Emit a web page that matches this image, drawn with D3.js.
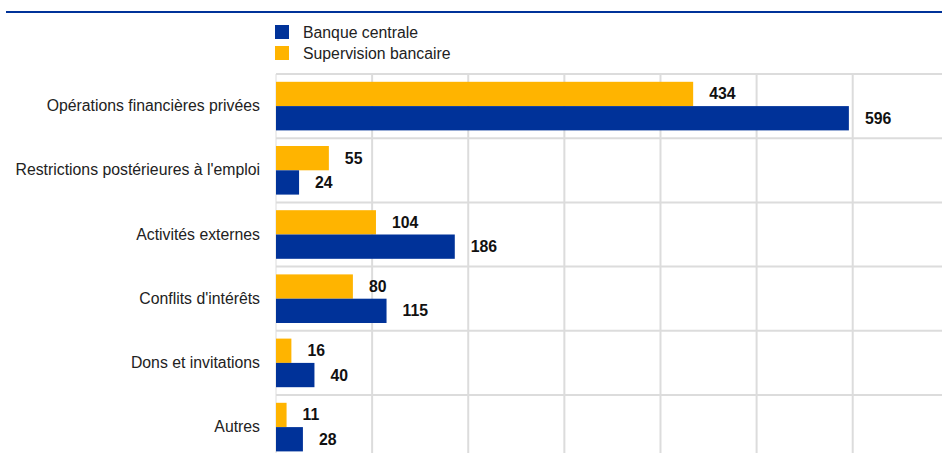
<!DOCTYPE html>
<html>
<head>
<meta charset="utf-8">
<script src="https://cdn.jsdelivr.net/npm/d3@7"></script>
<style>
  html, body { margin: 0; padding: 0; background: #fff; }
  svg { display: block; }
  text { font-family: "Liberation Sans", Arial, sans-serif; }
</style>
</head>
<body>
<svg id="chart" width="942" height="453"></svg>
<script>
const categories = [
  "Opérations financières privées",
  "Restrictions postérieures à l'emploi",
  "Activités externes",
  "Conflits d'intérêts",
  "Dons et invitations",
  "Autres"
];
const seriesNames = ["Supervision bancaire", "Banque centrale"];
const supervisionValues = [434, 55, 104, 80, 16, 11];
const banqueValues = [596, 24, 186, 115, 40, 28];
const xTicks = [0, 100, 200, 300, 400, 500, 600, 700];
const legendItems = ["Banque centrale", "Supervision bancaire"];

const colors = { "Banque centrale": "#003299", "Supervision bancaire": "#FFB400" };

const W = 942, H = 453;
const left = 276;
const FS = 15.8;
const svg = d3.select("#chart");

// top rule
svg.append("line")
  .attr("x1", 6).attr("x2", W).attr("y1", 12).attr("y2", 12)
  .attr("stroke", "#003299").attr("stroke-width", 2);

const x = d3.scaleLinear().domain([0, 700]).range([left, left + 700 * 0.9612]);
const y = d3.scaleBand().domain(categories).range([74, 74 + 6 * 64.2]).paddingInner(0).paddingOuter(0);
const ySub = d3.scaleBand().domain(seriesNames).range([0, y.bandwidth()]).paddingInner(0).paddingOuter(0.321);

const grid = svg.append("g");
grid.selectAll("line.v").data(xTicks).join("line")
  .attr("class", "v")
  .attr("x1", d => x(d)).attr("x2", d => x(d))
  .attr("y1", 74).attr("y2", H)
  .attr("stroke", "#dcdcdc").attr("stroke-width", d => d === 0 ? 1 : 2);
const hLines = categories.map(c => y(c));
grid.selectAll("line.h").data(hLines).join("line")
  .attr("class", "h")
  .attr("x1", left).attr("x2", W)
  .attr("y1", d => d).attr("y2", d => d)
  .attr("stroke", "#dcdcdc").attr("stroke-width", 2);

const data = [];
categories.forEach((c, i) => {
  data.push({ cat: c, series: "Supervision bancaire", value: supervisionValues[i] });
  data.push({ cat: c, series: "Banque centrale", value: banqueValues[i] });
});

svg.append("g").selectAll("rect").data(data).join("rect")
  .attr("x", x(0))
  .attr("y", d => y(d.cat) + ySub(d.series))
  .attr("width", d => x(d.value) - x(0))
  .attr("height", ySub.bandwidth())
  .attr("fill", d => colors[d.series]);

svg.append("g").selectAll("text").data(data).join("text")
  .attr("x", d => x(d.value) + 16)
  .attr("y", d => y(d.cat) + ySub(d.series) + ySub.bandwidth() / 2 + 5.5)
  .attr("font-size", FS)
  .attr("font-weight", "bold")
  .attr("fill", "#111")
  .text(d => d.value);

const yAxis = d3.axisLeft(y).tickSize(0).tickPadding(0);
const ga = svg.append("g").attr("transform", `translate(260,0)`).call(yAxis);
ga.select(".domain").remove();
ga.selectAll("text")
  .attr("font-size", FS)
  .attr("fill", "#222")
  .style("font-family", '"Liberation Sans", Arial, sans-serif');

const lg = svg.append("g");
legendItems.forEach((name, i) => {
  const yy = 25 + i * 21;
  lg.append("rect").attr("x", 275).attr("y", yy).attr("width", 14).attr("height", 14)
    .attr("fill", colors[name]);
  lg.append("text").attr("x", 303).attr("y", yy + 12.5)
    .attr("font-size", FS).attr("fill", "#222").text(name);
});
</script>
</body>
</html>
